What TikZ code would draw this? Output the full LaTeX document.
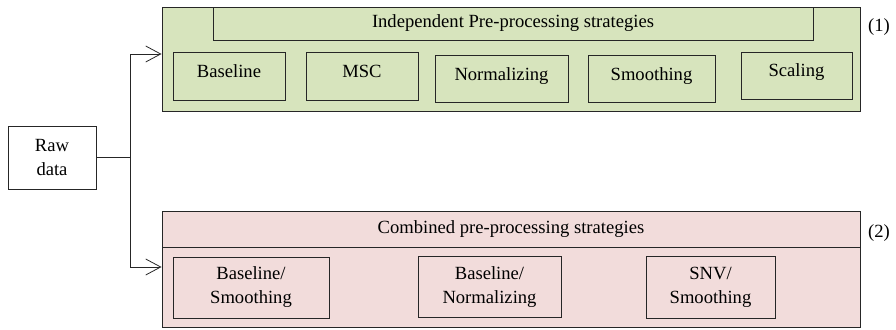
\documentclass[tikz,border=0pt]{standalone}
\usepackage{fontspec}
\setmainfont{Liberation Serif}
\usetikzlibrary{arrows.meta}
\definecolor{indgreen}{HTML}{D7E4BD}
\definecolor{combpink}{HTML}{F2DCDB}
\definecolor{edge}{HTML}{262626}

\begin{document}
\begin{tikzpicture}[x=1pt,y=-1pt,
    every node/.style={font=\fontsize{18.6}{24}\selectfont},
    box/.style={draw=edge,line width=0.9pt,rectangle,inner sep=0pt,align=center},
    lift/.style={text height=12pt,text depth=9pt},
    arr/.style={-{Straight Barb[length=15pt,width=16pt]},draw=edge,line width=0.8pt}]
  \useasboundingbox (0,0) rectangle (896,329);
  % raw data and the fork
  \node[box,fill=white,minimum width=88pt,minimum height=63pt] (raw) at (52,157.5) {Raw\\data};
  \coordinate (fork) at (130,157.5);
  % (1) independent strategies
  \node[box,fill=indgreen,minimum width=698pt,minimum height=104pt] (indep) at (511,59) {};
  \node[box,fill=indgreen,minimum width=600pt,minimum height=33pt] (indtitle) at (513,23.5) {Independent Pre-processing strategies};
  \node[box,lift,fill=indgreen,minimum width=112pt,minimum height=48pt] (base) at (229,76) {Baseline};
  \node[box,lift,fill=indgreen,minimum width=112pt,minimum height=48pt] (msc) at (362,76) {MSC};
  \node[box,lift,fill=indgreen,minimum width=133pt,minimum height=47pt] (norm) at (501.5,78.5) {Normalizing};
  \node[box,lift,fill=indgreen,minimum width=127pt,minimum height=47pt] (smooth) at (651.5,78.5) {Smoothing};
  \node[box,lift,fill=indgreen,minimum width=111pt,minimum height=47pt] (scale) at (796.5,75.5) {Scaling};
  \node (lab1) at (879,27) {(1)};
  % (2) combined strategies
  \node[box,fill=combpink,minimum width=698pt,minimum height=116pt] (comb) at (511,269) {};
  \node[box,fill=combpink,minimum width=698pt,minimum height=36pt] (combtitle) at (511,229) {Combined pre-processing strategies};
  \node[box,fill=combpink,minimum width=156pt,minimum height=61pt] (bs) at (251,287.5) {Baseline/\\Smoothing};
  \node[box,fill=combpink,minimum width=143pt,minimum height=61pt] (bn) at (489.5,287) {Baseline/\\Normalizing};
  \node[box,fill=combpink,minimum width=129pt,minimum height=62pt] (ss) at (710.5,287) {SNV/\\Smoothing};
  \node (lab2) at (879,233) {(2)};
  % connectors
  \draw[draw=edge,line width=0.8pt] (raw.east) -- (fork);
  \draw[arr] (fork) |- ([yshift=5pt]indep.west);
  \draw[arr] (fork) |- ([yshift=2pt]comb.west);
\end{tikzpicture}
\end{document}
